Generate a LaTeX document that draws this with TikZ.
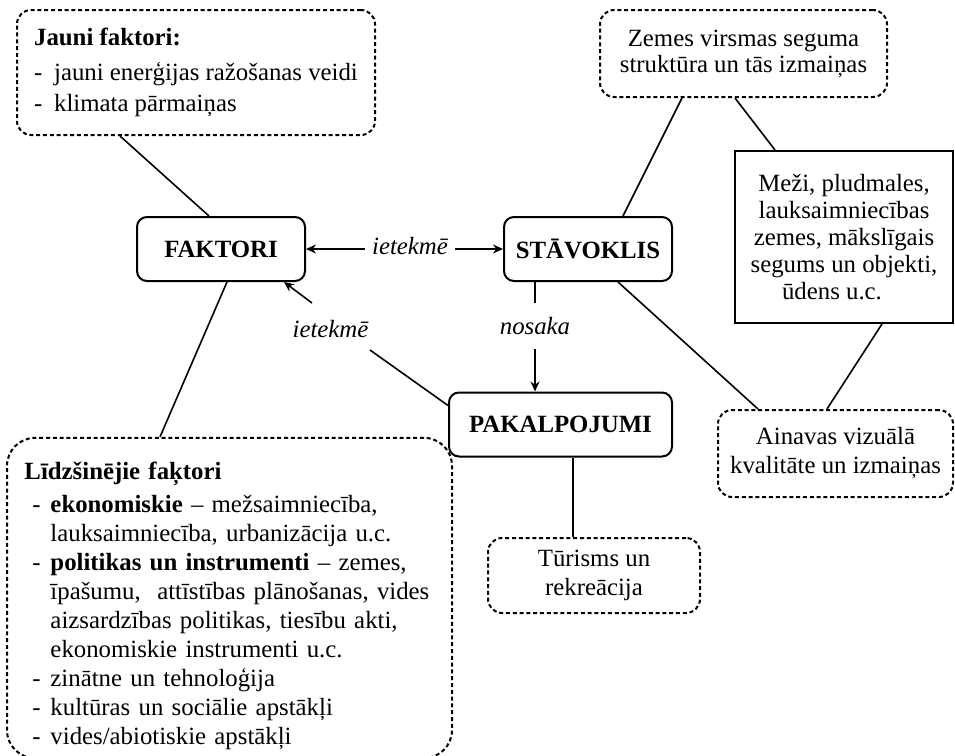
\documentclass[tikz,border=0pt]{standalone}
\usepackage{fontspec}
\setmainfont{Liberation Serif}
\usetikzlibrary{arrows.meta}
\newcommand\diagfont{\fontsize{12.4}{14.5}\selectfont}

\begin{document}
\begin{tikzpicture}[x=0.5pt, y=-0.5pt, >={Stealth[length=5pt,width=4.5pt]},
    every node/.style={font=\diagfont},
    mainbox/.style={draw, line width=1pt, rounded corners=5pt, font=\diagfont\bfseries,
        minimum width=84pt, minimum height=32pt},
    dashbox/.style={draw, line width=1pt, dash pattern=on 2pt off 1.4pt,
        rounded corners=7pt, align=center},
    solidbox/.style={draw, line width=1pt, align=center},
    relation/.style={font=\diagfont\itshape},
    link/.style={line width=0.8pt}]
    \useasboundingbox (0,0) rectangle (955,756);

    % central nodes
    \node[mainbox] (faktori) at (221,249) {FAKTORI};
    \node[mainbox] (stavoklis) at (588,249) {STĀVOKLIS};
    \node[mainbox, minimum width=111.5pt] (pakalpojumi) at (560.5,424.5) {PAKALPOJUMI};

    % factor boxes
    \node[dashbox, align=left, minimum width=179pt, minimum height=62.5pt]
        (jauni) at (196,72.5)
        {\textbf{Jauni faktori:}\\[3pt]
         \makebox[10pt][l]{-}jauni enerģijas ražošanas veidi\\[1pt]
         \makebox[10pt][l]{-}klimata pārmaiņas};
    \node[dashbox, align=left, rounded corners=14pt, text width=205pt, inner xsep=8.75pt, inner ysep=4pt]
        (lidz) at (229.5,598)
        {\rule{0pt}{17pt}\textbf{Līdzšinējie faķtori}\\[2pt]
         \hspace*{4pt}\makebox[9pt][l]{-}\textbf{ekonomiskie} – mežsaimniecība,\\
         \hspace*{13pt}lauksaimniecība, urbanizācija u.c.\\
         \hspace*{4pt}\makebox[9pt][l]{-}\textbf{politikas un instrumenti} – zemes,\\
         \hspace*{13pt}īpašumu,~ attīstības plānošanas, vides\\
         \hspace*{13pt}aizsardzības politikas, tiesību akti,\\
         \hspace*{13pt}ekonomiskie instrumenti u.c.\\
         \hspace*{4pt}\makebox[9pt][l]{-}zinātne un tehnoloģija\\
         \hspace*{4pt}\makebox[9pt][l]{-}kultūras un sociālie apstākļi\\
         \hspace*{4pt}\makebox[9pt][l]{-}vides/abiotiskie apstākļi};

    % state boxes
    \node[dashbox, minimum width=143.5pt, minimum height=43.5pt] (zemes) at (743.5,53.5)
        {Zemes virsmas seguma\\[-1.5pt]struktūra un tās izmaiņas};
    \node[solidbox, font=\fontsize{12.4}{13.5}\selectfont, minimum width=109pt, minimum height=86pt]
        (mezi) at (844,237)
        {Meži, pludmales,\\lauksaimniecības\\zemes, mākslīgais\\segums un objekti,\\\hspace*{-12pt}ūdens u.c.};
    \node[dashbox, minimum width=117.5pt, minimum height=43.5pt] (ainavas) at (835.5,453.5)
        {Ainavas vizuālā\\kvalitāte un izmaiņas};
    \node[dashbox, minimum width=106pt, minimum height=37.5pt] (turisms) at (594,575.5)
        {Tūrisms un\\rekreācija};

    % relation labels
    \node[relation] (ietekme1) at (410,246) {ietekmē};
    \node[relation] (ietekme2) at (330.5,329) {ietekmē};
    \node[relation, inner ysep=7pt] (nosaka) at (535,326) {nosaka};
    \coordinate (ietekme2in) at (370,350);
    \coordinate (ietekme2out) at (312,303);
    \coordinate (pakfoot) at ([xshift=6.25pt]pakalpojumi.south);

    % arrows
    \draw[link,->] (ietekme1.west |- faktori.east) -- (faktori.east);
    \draw[link,->] (ietekme1.east |- stavoklis.west) -- (stavoklis.west);
    \draw[link] ([yshift=-7pt]pakalpojumi.north west) -- (ietekme2in);
    \draw[link,->] (ietekme2out) -- ([xshift=-11pt]faktori.south east);
    \draw[link] (nosaka.north |- stavoklis.south) -- (nosaka.north);
    \draw[link,->] (nosaka.south) -- (nosaka.south |- pakalpojumi.north);

    % plain links
    \draw[link] ([xshift=-38pt]jauni.south) -- ([xshift=-6pt]faktori.north);
    \draw[link] ([xshift=3pt]faktori.south) -- ([xshift=-34.75pt]lidz.north);
    \draw[link] ([xshift=17.5pt]stavoklis.north) -- ([xshift=-30.75pt]zemes.south);
    \draw[link] ([xshift=-4.25pt]zemes.south) -- ([xshift=-34.5pt]mezi.north);
    \draw[link] ([xshift=15pt]stavoklis.south) -- ([xshift=-38.75pt]ainavas.north);
    \draw[link] ([xshift=19pt]mezi.south) -- ([xshift=-4.25pt]ainavas.north);
    \draw[link] (pakfoot) -- (pakfoot |- turisms.north);
\end{tikzpicture}
\end{document}
